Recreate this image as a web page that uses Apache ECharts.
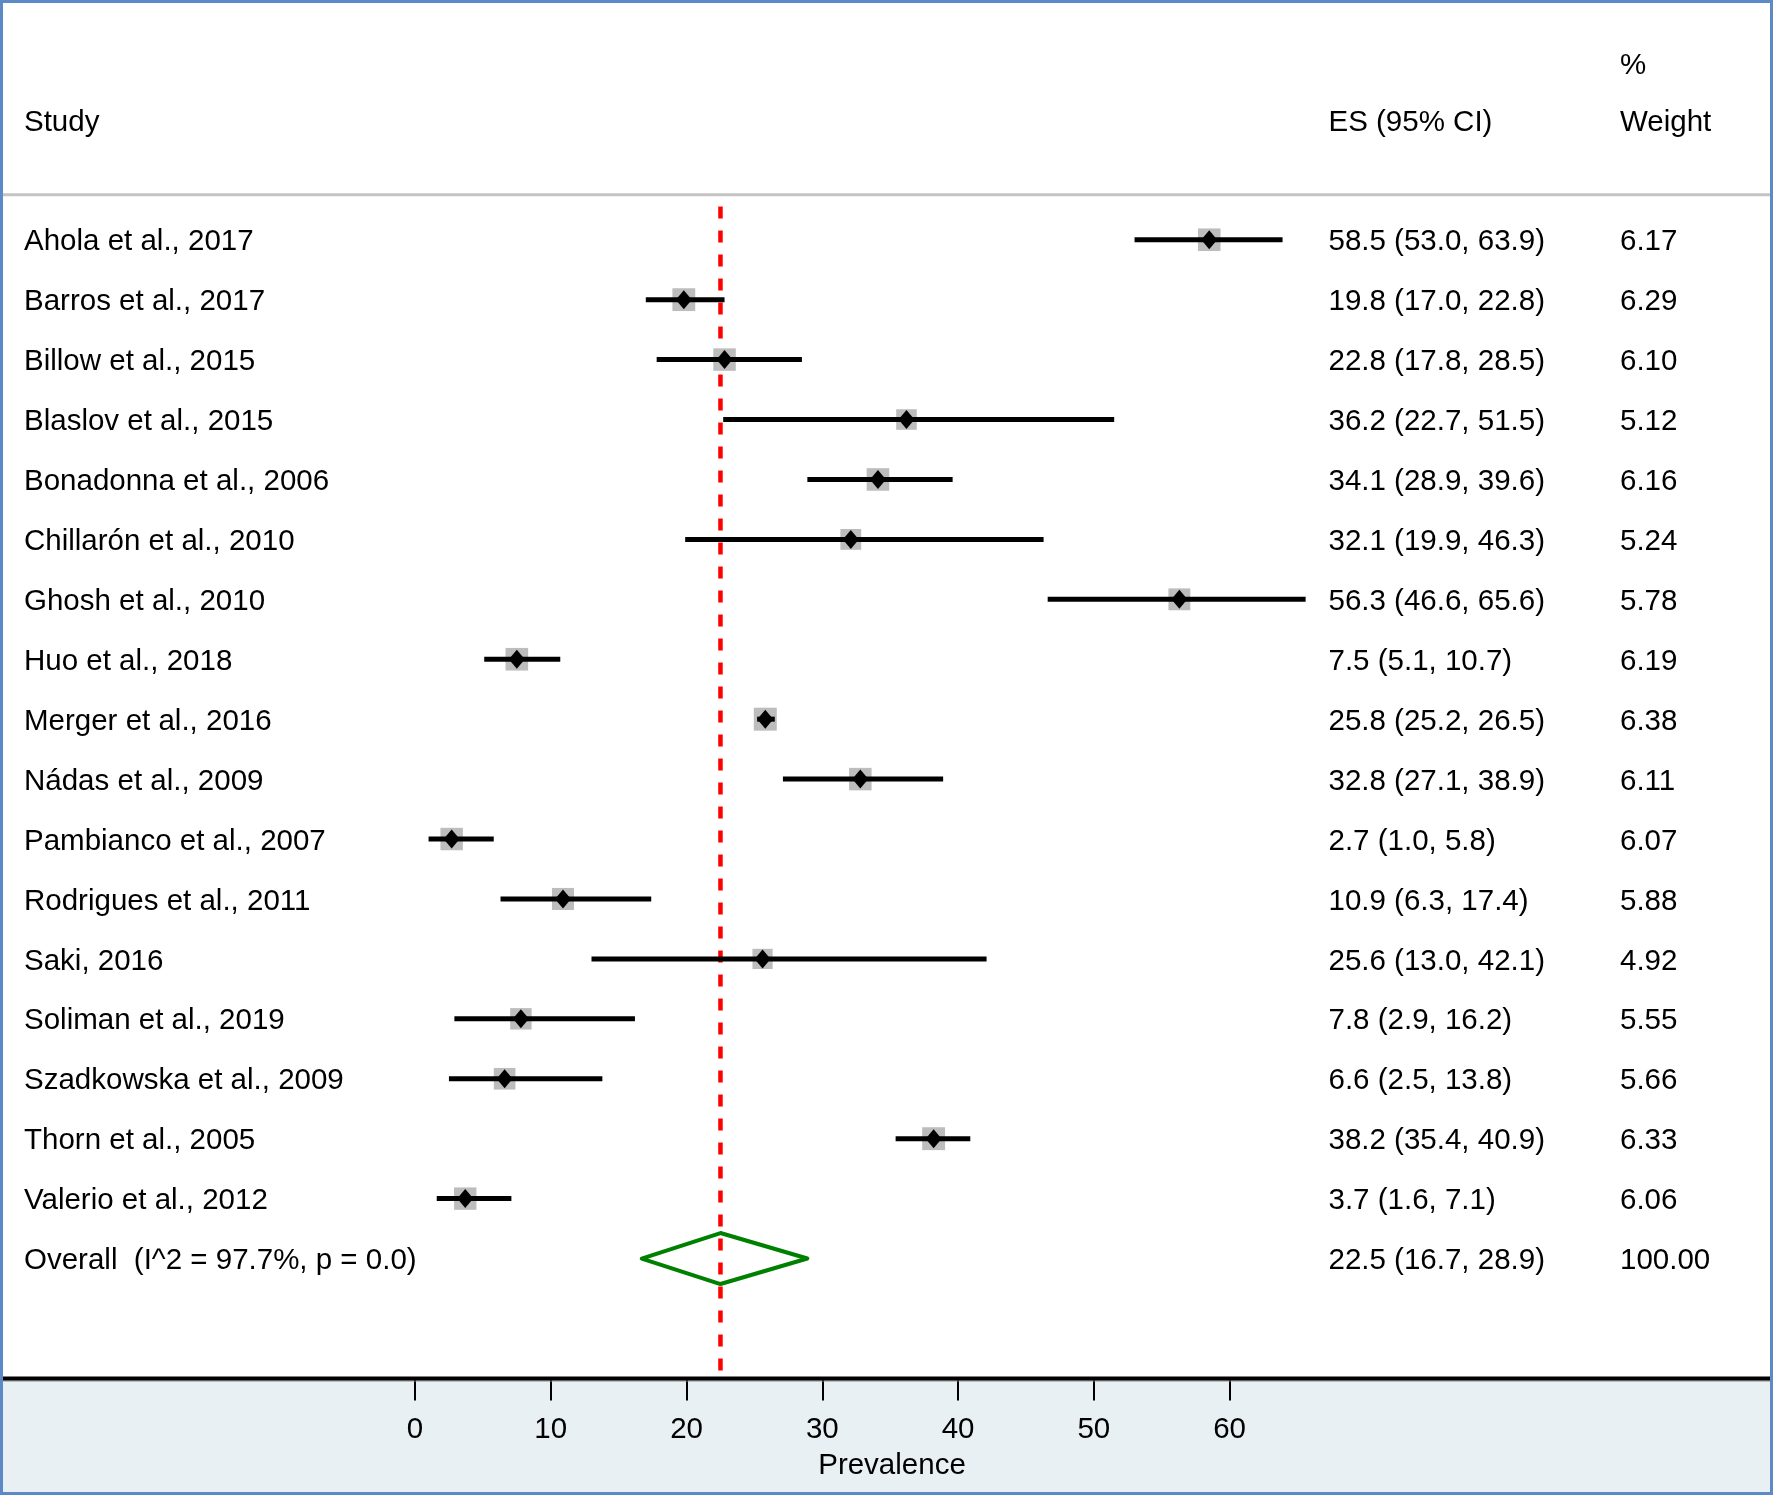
<!DOCTYPE html>
<html>
<head>
<meta charset="utf-8">
<script src="https://cdn.jsdelivr.net/npm/echarts@6/dist/echarts.min.js"></script>
<style>
html,body{margin:0;padding:0;background:#fff;}
#chart{width:1773px;height:1495px;}
</style>
</head>
<body>
<div id="chart"></div>
<script>
// ---- data ----
const studies = ["Ahola et al., 2017", "Barros et al., 2017", "Billow et al., 2015", "Blaslov et al., 2015",
  "Bonadonna et al., 2006", "Chillarón et al., 2010", "Ghosh et al., 2010", "Huo et al., 2018",
  "Merger et al., 2016", "Nádas et al., 2009", "Pambianco et al., 2007", "Rodrigues et al., 2011",
  "Saki, 2016", "Soliman et al., 2019", "Szadkowska et al., 2009", "Thorn et al., 2005", "Valerio et al., 2012"];
const es = [58.5, 19.8, 22.8, 36.2, 34.1, 32.1, 56.3, 7.5, 25.8, 32.8, 2.7, 10.9, 25.6, 7.8, 6.6, 38.2, 3.7];
const ciLow = [53.0, 17.0, 17.8, 22.7, 28.9, 19.9, 46.6, 5.1, 25.2, 27.1, 1.0, 6.3, 13.0, 2.9, 2.5, 35.4, 1.6];
const ciHigh = [63.9, 22.8, 28.5, 51.5, 39.6, 46.3, 65.6, 10.7, 26.5, 38.9, 5.8, 17.4, 42.1, 16.2, 13.8, 40.9, 7.1];
const weights = [6.17, 6.29, 6.10, 5.12, 6.16, 5.24, 5.78, 6.19, 6.38, 6.11, 6.07, 5.88, 4.92, 5.55, 5.66, 6.33, 6.06];
const overallLabel = "Overall  (I^2 = 97.7%, p = 0.0)";
const overallES = 22.5, overallLow = 16.7, overallHigh = 28.9, overallWeight = 100.00;
const xTicks = [0, 10, 20, 30, 40, 50, 60];
const headers = {study: "Study", es: "ES (95% CI)", pct: "%", weight: "Weight"};
const axisTitle = "Prevalence";

// ---- style ----
const FONT = "'Liberation Sans', Arial, Helvetica, sans-serif";
const FS = 29.5;
const TXT_DY = 2.5;
const COL_STUDY = 24, COL_ES = 1328.5, COL_W = 1620;
const W = 1773, H = 1495;
const AXIS_Y = 1378.4;

const chart = echarts.init(document.getElementById('chart'), null, {renderer: 'canvas'});

const rowData = studies.map((s, i) => [i, es[i], ciLow[i], ciHigh[i], weights[i]]);
const f1 = v => v.toFixed(1);

function txt(x, y, s, align) {
  return {type: 'text', x: x, y: y + TXT_DY, style: {text: s, fill: '#000', font: FS + 'px ' + FONT,
    textAlign: align || 'left', textVerticalAlign: 'middle'}};
}

const option = {
  animation: false,
  backgroundColor: '#ffffff',
  grid: {left: 415, right: W - 1229.6, top: 179.8, bottom: H - AXIS_Y, containLabel: false},
  xAxis: {
    type: 'value', min: 0, max: 60, interval: 10, z: 5, position: 'bottom',
    axisLine: {show: false, onZero: false},
    axisTick: {show: true, length: 22, lineStyle: {color: '#000', width: 2}},
    axisLabel: {color: '#000', fontSize: FS, fontFamily: FONT, margin: 36,
      customValues: xTicks},
    splitLine: {show: false}
  },
  yAxis: {type: 'value', min: -1, max: 19, inverse: true, show: false},
  graphic: [
    {type: 'rect', z: -10, shape: {x: 0, y: AXIS_Y, width: W, height: H - AXIS_Y}, style: {fill: '#E8F0F3'}},
    {type: 'rect', z: 10, shape: {x: 0, y: 193.2, width: W, height: 3}, style: {fill: '#C4C4C4'}},
    {type: 'rect', z: 10, shape: {x: 0, y: AXIS_Y + 2, width: W, height: 1}, style: {fill: '#8A8A8A'}},
    {type: 'rect', z: 10, shape: {x: 0, y: AXIS_Y - 2, width: W, height: 4}, style: {fill: '#000'}},
    {type: 'rect', z: 20, shape: {x: 1.5, y: 1.5, width: W - 3, height: H - 3},
      style: {fill: null, stroke: '#5B8AC6', lineWidth: 3}},
    Object.assign(txt(COL_STUDY, 120.7, headers.study), {z: 10}),
    Object.assign(txt(COL_ES, 120.7, headers.es), {z: 10}),
    Object.assign(txt(COL_W, 63, headers.pct), {z: 10}),
    Object.assign(txt(COL_W, 120.7, headers.weight), {z: 10}),
    Object.assign(txt(892, 1463, axisTitle, 'center'), {z: 10})
  ],
  series: [
    {
      // reference (pooled estimate) dashed line
      type: 'custom', z: 1, clip: false,
      data: [[overallES]],
      renderItem: function (params, api) {
        const p1 = api.coord([api.value(0), -0.721]);
        const p2 = api.coord([api.value(0), 19]);
        return {type: 'line', shape: {x1: p1[0], y1: p1[1], x2: p2[0], y2: p2[1]},
          style: {stroke: '#FF0000', lineWidth: 4.5, lineDash: [12, 12], lineDashOffset: 14}};
      }
    },
    {
      type: 'custom', z: 3, clip: false,
      data: rowData,
      renderItem: function (params, api) {
        const i = api.value(0);
        const c = api.coord([api.value(1), i]);
        const lo = api.coord([api.value(2), i]);
        const hi = api.coord([api.value(3), i]);
        const wt = api.value(4);
        const s = 9.1 * Math.sqrt(wt);
        const y = c[1];
        const k = params.dataIndex;
        return {type: 'group', children: [
          {type: 'rect', shape: {x: c[0] - s / 2, y: y - s / 2, width: s, height: s}, style: {fill: '#BDBDBD'}},
          {type: 'line', shape: {x1: lo[0], y1: y, x2: hi[0], y2: y}, style: {stroke: '#000', lineWidth: 5}},
          {type: 'polygon', shape: {points: [[c[0] - 8, y], [c[0], y - 9.5], [c[0] + 8, y], [c[0], y + 9.5]]},
            style: {fill: '#000'}},
          txt(COL_STUDY, y, studies[k]),
          txt(COL_ES, y, f1(api.value(1)) + ' (' + f1(api.value(2)) + ', ' + f1(api.value(3)) + ')'),
          txt(COL_W, y, wt.toFixed(2))
        ]};
      }
    },
    {
      type: 'custom', z: 3, clip: false,
      data: [[studies.length, overallES, overallLow, overallHigh, overallWeight]],
      renderItem: function (params, api) {
        const i = api.value(0);
        const c = api.coord([api.value(1), i]);
        const lo = api.coord([api.value(2), i]);
        const hi = api.coord([api.value(3), i]);
        const y = c[1];
        const h = 25.5;
        return {type: 'group', children: [
          {type: 'polygon', shape: {points: [[lo[0], y], [c[0], y - h], [hi[0], y], [c[0], y + h]]},
            style: {fill: null, stroke: '#008000', lineWidth: 4, lineJoin: 'round'}},
          txt(COL_STUDY, y, overallLabel),
          txt(COL_ES, y, f1(api.value(1)) + ' (' + f1(api.value(2)) + ', ' + f1(api.value(3)) + ')'),
          txt(COL_W, y, api.value(4).toFixed(2))
        ]};
      }
    }
  ]
};
chart.setOption(option);
</script>
</body>
</html>
